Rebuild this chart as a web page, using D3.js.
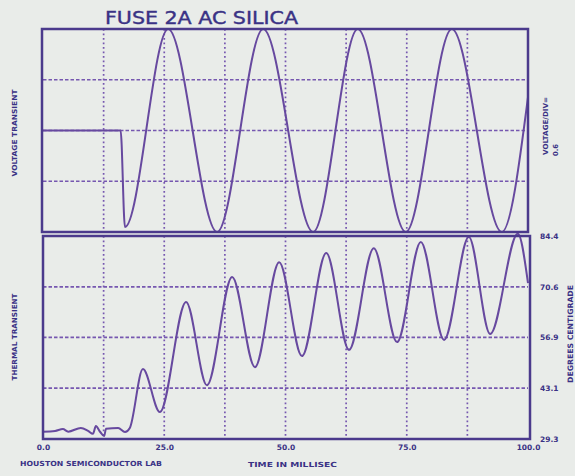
<!DOCTYPE html>
<html>
<head>
<meta charset="utf-8">
<script src="https://cdn.jsdelivr.net/npm/d3@7"></script>
<style>
  body { margin: 0; background: #e9ece9; }
  .lbl { font-family: "DejaVu Sans", sans-serif; font-weight: bold; fill: #3a3285; }
</style>
</head>
<body>
<div id="chart"></div>
<script>
// axis / grid values
var timeTicks = [0, 25, 50, 75, 100];
var timeGrid = [12.5, 25, 37.5, 50, 62.5, 75, 87.5];
var voltGrid = [-1, 0, 1];
var tempTicks = [29.3, 43.1, 56.9, 70.6, 84.4];

// voltage transient (divisions)
var voltTime  = [0, 16.0, 16.9, 25.8, 35.9, 45.4, 55.7, 64.9, 74.8, 84.3, 94.6, 100];
var voltValue = [0, 0, -1.9, 2, -2, 2, -2, 2, -2, 2, -2, 0.66];

// thermal transient (deg C)
var thermTime = [0, 2.5, 4.1, 5.2, 7.8, 9.3, 10.3, 10.9, 11.8, 12.6, 13.0, 15.5, 16.9, 17.9,
                 20.6, 24.1, 29.5, 33.8, 39.0, 43.7, 48.7, 53.4, 58.4, 63.1, 68.2, 73.0,
                 77.9, 82.7, 87.8, 92.2, 97.9, 100];
var thermTemp = [31.3, 31.5, 32.0, 31.3, 32.3, 31.5, 30.7, 32.8, 31.2, 30.1, 32.1, 32.3, 31.2, 32.3,
                 48.3, 36.6, 66.5, 43.9, 73.3, 48.8, 77.3, 51.8, 79.8, 53.5, 81.1, 55.6,
                 82.8, 56.2, 84.1, 57.8, 85.0, 71.6];

var W = 575, H = 476;
var lineColor = "#67499f", frameColor = "#4b3a8c", gridColor = "#7657b0";

var svg = d3.select("#chart").append("svg")
  .attr("width", W).attr("height", H);

svg.append("rect").attr("width", W).attr("height", H).attr("fill", "#e9ece9");

var x = d3.scaleLinear().domain([0, 100]).range([43, 528]);
var yV = d3.scaleLinear().domain([-2, 2]).range([232, 29]);
var yT = d3.scaleLinear().domain([29.3, 84.4]).range([439, 236]);

function grid(yScale, yVals, top, bottom) {
  var g = svg.append("g");
  g.selectAll(".vg").data(timeGrid).enter().append("line")
    .attr("x1", function(d) { return x(d); }).attr("x2", function(d) { return x(d); })
    .attr("y1", top).attr("y2", bottom)
    .attr("stroke", gridColor).attr("stroke-width", 1.7)
    .attr("stroke-dasharray", "1.7,2.8");
  g.selectAll(".hg").data(yVals).enter().append("line")
    .attr("x1", x(0)).attr("x2", x(100))
    .attr("y1", function(d) { return yScale(d); }).attr("y2", function(d) { return yScale(d); })
    .attr("stroke", gridColor).attr("stroke-width", 1.7)
    .attr("stroke-dasharray", "3.5,2");
}

grid(yV, voltGrid, yV(2), yV(-2));
grid(yT, tempTicks.slice(1, 4), yT(84.4), yT(29.3));

// traces
var vLine = d3.line()
  .x(function(d, i) { return x(voltTime[i]); })
  .y(function(d) { return yV(d); })
  .curve(d3.curveMonotoneX);

var tLine = d3.line()
  .x(function(d, i) { return x(thermTime[i]); })
  .y(function(d) { return yT(d); })
  .curve(d3.curveMonotoneX);

svg.append("path").attr("d", vLine(voltValue))
  .attr("fill", "none").attr("stroke", lineColor).attr("stroke-width", 2);
svg.append("path").attr("d", tLine(thermTemp))
  .attr("fill", "none").attr("stroke", lineColor).attr("stroke-width", 2);

// frames
svg.append("rect").attr("x", x(0) - 1).attr("y", yV(2))
  .attr("width", x(100) - x(0) + 1).attr("height", yV(-2) - yV(2))
  .attr("fill", "none").attr("stroke", frameColor).attr("stroke-width", 2.5);
svg.append("rect").attr("x", x(0)).attr("y", yT(84.4))
  .attr("width", x(100) - x(0) + 2).attr("height", yT(29.3) - yT(84.4))
  .attr("fill", "none").attr("stroke", frameColor).attr("stroke-width", 2.5);

// x axis labels
var xAxis = svg.append("g")
  .attr("transform", "translate(0,443)")
  .call(d3.axisBottom(x).tickValues(timeTicks).tickSize(0).tickFormat(d3.format(".1f")));
xAxis.select(".domain").remove();
xAxis.selectAll("text").attr("class", "lbl").style("font-size", "7.5px").attr("dy", "0.5em")
  .attr("fill", null);

// right temperature axis
var yAxis = svg.append("g")
  .attr("transform", "translate(540,0)")
  .call(d3.axisRight(yT).tickValues(tempTicks).tickSize(0).tickFormat(d3.format(".1f")));
yAxis.select(".domain").remove();
yAxis.selectAll("text").attr("class", "lbl").style("font-size", "7.5px").attr("x", 0)
  .attr("fill", null);

// texts
svg.append("text").attr("class", "lbl")
  .attr("x", 105).attr("y", 24)
  .attr("textLength", 193).attr("lengthAdjust", "spacingAndGlyphs")
  .style("font-size", "17px").style("font-weight", "normal").style("stroke", "#3a3285").style("stroke-width", 0.4)
  .text("FUSE 2A AC SILICA");

function rotText(txt, cx, cy, len, size) {
  svg.append("text").attr("class", "lbl")
    .attr("transform", "translate(" + cx + "," + cy + ") rotate(-90)")
    .attr("text-anchor", "middle").attr("dy", "0.35em")
    .attr("textLength", len).attr("lengthAdjust", "spacingAndGlyphs")
    .style("font-size", size + "px")
    .text(txt);
}
rotText("VOLTAGE TRANSIENT", 15, 133, 87, 7);
rotText("THERMAL TRANSIENT", 15, 337, 87, 7);
rotText("VOLTAGE/DIV=", 546, 126, 58, 7);
rotText("0.6", 556, 150, 12, 7);
rotText("DEGREES CENTIGRADE", 570, 334, 98, 7.5);

svg.append("text").attr("class", "lbl")
  .attr("x", 20).attr("y", 466)
  .attr("textLength", 142).attr("lengthAdjust", "spacingAndGlyphs")
  .style("font-size", "7px")
  .text("HOUSTON SEMICONDUCTOR LAB");

svg.append("text").attr("class", "lbl")
  .attr("x", 248).attr("y", 467)
  .attr("textLength", 89).attr("lengthAdjust", "spacingAndGlyphs")
  .style("font-size", "7px")
  .text("TIME IN MILLISEC");
</script>
</body>
</html>
